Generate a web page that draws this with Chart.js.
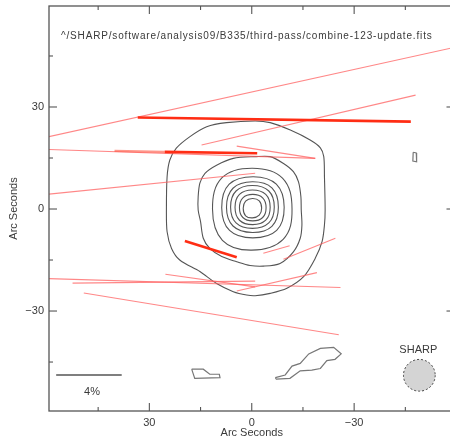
<!DOCTYPE html>
<html><head><meta charset="utf-8">
<script src="https://cdn.jsdelivr.net/npm/chart.js@4.4.0/dist/chart.umd.min.js"></script>
<style>html,body{margin:0;padding:0;overflow:hidden;background:#fff;width:450px;height:444px}canvas{display:block}</style>
</head><body>
<canvas id="c" width="460" height="444"></canvas>
<script>
// ---- axes ----
const xRange = [-59.4, 59.4];
const yRange = [-59.4, 59.7];
const tickValues = [-45, -30, -15, 0, 15, 30, 45];
const labeledTicks = [-30, 0, 30];
const tickLabels = {'-30': '\u221230', '0': '0', '30': '30'};
const axisTitle = 'Arc Seconds';
const fileTitle = '^/SHARP/software/analysis09/B335/third-pass/combine-123-update.fits';

// ---- intensity contours (arcsec offsets: x = RA offset, y = Dec offset) ----
const contour1 = [[-1.0,25.9],[-5.4,25.4],[-11.3,23.2],[-17.1,20.3],[-20.1,18.0],[-21.1,15.4],[-21.3,9.5],[-21.5,-0.3],[-21.3,-4.7],[-20.6,-9.6],[-18.6,-14.5],[-15.2,-19.9],[-10.3,-23.3],[-5.4,-24.8],[-1.0,-25.5],[1.5,-25.3],[5.4,-24.3],[10.3,-21.9],[15.2,-18.4],[21.1,-15.0],[23.5,-11.6],[24.8,-6.7],[25.0,-0.3],[24.8,9.5],[24.0,14.4],[22.1,17.9],[18.1,21.3],[13.2,24.2],[7.4,25.4]];
const contour2 = [[-1.0,15.4],[-5.4,15.4],[-9.3,13.4],[-12.2,11.0],[-13.7,8.0],[-14.4,3.6],[-14.5,-0.3],[-14.7,-4.7],[-14.2,-8.6],[-12.2,-12.6],[-8.3,-16.0],[-3.4,-16.8],[0.5,-16.6],[4.4,-15.5],[8.8,-14.0],[12.3,-11.6],[14.2,-8.6],[15.0,-3.7],[15.7,-0.3],[15.7,3.6],[15.2,7.6],[13.7,10.5],[10.3,12.9],[5.4,14.9]];
const contour3 = [[-11.8,0.0],[-9.0,9.1],[-0.2,12.0],[8.7,9.2],[11.5,0.0],[8.6,-9.2],[0.0,-12.1],[-9.2,-8.9]];
const contour4 = [[-9.5,0.5],[-7.2,7.3],[-0.4,9.5],[6.6,7.3],[8.8,0.4],[6.5,-6.3],[-0.3,-8.5],[-7.3,-6.3]];
const contour5 = [[-7.8,0.5],[-5.9,6.2],[-0.2,8.0],[5.5,6.1],[7.4,0.5],[5.5,-5.0],[-0.2,-6.9],[-5.9,-5.1]];
const contour6 = [[-6.6,0.6],[-5.0,5.3],[-0.2,6.9],[4.6,5.3],[6.2,0.6],[4.6,-4.1],[-0.2,-5.7],[-5.0,-4.1]];
const contour7 = [[-5.4,0.5],[-4.1,4.3],[-0.2,5.6],[3.6,4.3],[4.9,0.5],[3.6,-3.3],[-0.3,-4.6],[-4.1,-3.3]];
const contour8 = [[-4.2,0.4],[-3.2,3.3],[-0.3,4.3],[2.6,3.3],[3.6,0.4],[2.6,-2.5],[-0.3,-3.5],[-3.2,-2.5]];
const contour9 = [[-2.9,0.2],[-2.2,2.4],[-0.2,3.1],[1.8,2.3],[2.5,0.2],[1.8,-2.0],[-0.2,-2.6],[-2.2,-1.8]];
const smoothContours = [contour1, contour2, contour3, contour4, contour5, contour6, contour7, contour8, contour9];
// small angular contour islands
const islandA = [[17.6,-47.1],[14.2,-47.1],[12.3,-48.6],[9.5,-48.6],[9.3,-49.6],[16.7,-49.8]];
const islandB = [[-6.9,-49.6],[-9.8,-48.8],[-11.8,-46.2],[-14.2,-45.4],[-16.7,-42.6],[-20.1,-41.0],[-24.0,-40.7],[-26.2,-42.6],[-24.4,-44.2],[-22.0,-44.6],[-20.1,-46.9],[-17.6,-47.4],[-14.2,-47.6],[-11.2,-49.8],[-7.2,-50.0]];
const islandC = [[-47.3,16.7],[-48.2,16.5],[-48.3,13.9],[-47.2,14.1]];
const islands = [islandA, islandB, islandC];

// ---- polarization vectors (start / end in arcsec; class = significance) ----
const vecX1 = [62.0, 33.4, 14.7, 4.4, 62.0, 25.5, 40.2, 62.0, 19.6, 62.0, 52.5, 25.3, 4.4, 49.2, -3.4, -9.3];
const vecY1 = [20.7, 26.9, 18.8, 18.5, 17.6, 16.8, 17.1, 4.1, -9.4, -20.4, -21.8, -19.2, -24.1, -24.7, -13.0, -14.8];
const vecX2 = [-62.0, -46.6, -48.0, -18.6, -18.6, -1.6, 25.5, -1.0, 4.4, -26.0, -1.0, -1.0, -19.1, -25.5, -11.1, -24.5];
const vecY2 = [48.1, 25.7, 33.5, 14.9, 14.9, 16.4, 16.8, 10.5, -14.2, -23.1, -21.2, -22.9, -18.7, -37.0, -10.8, -8.6];
const vecClass = ['low','high','low','low','low','high','mid','low','high','low','low','low','low','low','low','low'];

// ---- key: 4% scale bar and SHARP beam ----
const scaleBarX = [57.3, 38.1];
const scaleBarY = -48.8;
const scaleBarLabel = '4%';
const scaleBarLabelPos = [46.8, -53.8];
const beamCenter = [-49.1, -48.9];
const beamRadius = 4.65;
const beamLabel = 'SHARP';
const beamLabelPos = [-48.8, -41.5];
const fileTitlePos = [55.9, 50.9];

// ---- build datasets ----
const FONT = '"Liberation Sans", Arial, sans-serif';
const TEXT = '#3a3a3a';
const vecStyle = {
  high: {color: 'rgb(255,45,20)', width: 2.6, order: 0},
  mid: {color: 'rgba(255,80,60,0.6)', width: 2.4, order: 0},
  low: {color: 'rgba(255,95,95,0.75)', width: 1.1, order: 1}
};
const datasets = [];
const toPts = arr => arr.map(p => ({x: p[0], y: p[1]}));
smoothContours.forEach((c, k) => {
  const n = c.length;
  const seq = [c[n - 1], ...c, c[0], c[1]];
  const last = seq.length - 2;
  datasets.push({
    data: toPts(seq), showLine: true, pointRadius: 0, borderColor: '#555', borderWidth: 1.1,
    tension: n > 10 ? 0.3 : 0.4, order: 2,
    segment: { borderColor: ctx => (ctx.p0DataIndex === 0 || ctx.p0DataIndex === last) ? 'rgba(0,0,0,0)' : '#555' }
  });
});
islands.forEach(c => {
  datasets.push({ data: toPts([...c, c[0]]), showLine: true, pointRadius: 0, borderColor: '#777', borderWidth: 1.2, tension: 0, order: 2 });
});
vecX1.forEach((_, i) => {
  const st = vecStyle[vecClass[i]];
  datasets.push({
    data: [{x: vecX1[i], y: vecY1[i]}, {x: vecX2[i], y: vecY2[i]}], showLine: true, pointRadius: 0,
    borderColor: st.color, borderWidth: st.width, order: st.order
  });
});
datasets.push({ data: [{x: scaleBarX[0], y: scaleBarY}, {x: scaleBarX[1], y: scaleBarY}], showLine: true, pointRadius: 0, borderColor: '#555', borderWidth: 1.5, order: 2 });

const decor = {
  id: 'decor',
  afterDatasetsDraw(chart) {
    const {ctx, chartArea: a, scales: {x, y}} = chart;
    ctx.save();
    ctx.strokeStyle = '#555';
    ctx.lineWidth = 1.3;
    ctx.strokeRect(a.left, a.top, a.right - a.left, a.bottom - a.top);
    ctx.lineWidth = 1.1;
    const seg = (x1, y1, x2, y2) => { ctx.beginPath(); ctx.moveTo(x1, y1); ctx.lineTo(x2, y2); ctx.stroke(); };
    tickValues.forEach(v => {
      const len = labeledTicks.includes(v) ? 8 : 4;
      const px = x.getPixelForValue(v), py = y.getPixelForValue(v);
      seg(px, a.bottom, px, a.bottom - len); seg(px, a.top, px, a.top + len);
      seg(a.left, py, a.left + len, py); seg(a.right, py, a.right - len, py);
    });
    // beam
    const bx = x.getPixelForValue(beamCenter[0]), by = y.getPixelForValue(beamCenter[1]);
    const br = Math.abs(x.getPixelForValue(beamCenter[0] + beamRadius) - bx);
    ctx.beginPath(); ctx.arc(bx, by, br, 0, Math.PI * 2);
    ctx.fillStyle = '#d4d4d4'; ctx.fill();
    ctx.setLineDash([2, 2]); ctx.strokeStyle = '#444'; ctx.lineWidth = 1; ctx.stroke(); ctx.setLineDash([]);
    // texts
    ctx.fillStyle = TEXT;
    ctx.textBaseline = 'middle';
    ctx.font = '10px ' + FONT;
    const w0 = ctx.measureText(fileTitle).width;
    ctx.letterSpacing = ((372 - w0) / fileTitle.length).toFixed(2) + 'px';
    ctx.textAlign = 'left';
    ctx.fillText(fileTitle, x.getPixelForValue(fileTitlePos[0]), y.getPixelForValue(fileTitlePos[1]));
    ctx.letterSpacing = '0px';
    ctx.textAlign = 'center';
    ctx.font = '11px ' + FONT;
    ctx.fillText(scaleBarLabel, x.getPixelForValue(scaleBarLabelPos[0]), y.getPixelForValue(scaleBarLabelPos[1]));
    ctx.fillText(beamLabel, x.getPixelForValue(beamLabelPos[0]), y.getPixelForValue(beamLabelPos[1]));
    ctx.restore();
  }
};

const tickOpts = {
  color: TEXT, font: {family: FONT, size: 11}, padding: 5,
  callback: v => tickLabels[String(v)] !== undefined ? tickLabels[String(v)] : ''
};
new Chart(document.getElementById('c'), {
  type: 'scatter',
  data: { datasets },
  plugins: [decor],
  options: {
    responsive: false, animation: false, events: [],
    layout: { autoPadding: false, padding: { left: 0, top: 6, right: 5.5, bottom: 0 } },
    plugins: { legend: { display: false }, tooltip: { enabled: false } },
    scales: {
      x: {
        type: 'linear', reverse: true, min: xRange[0], max: xRange[1],
        afterBuildTicks: s => { s.ticks = tickValues.map(v => ({value: v})); },
        afterFit: s => { s.height = 33; s.paddingLeft = 0; s.paddingRight = 0; },
        grid: { display: false, drawTicks: false }, border: { display: false },
        ticks: { ...tickOpts, maxRotation: 0, autoSkip: false, padding: 5 },
        title: { display: true, text: axisTitle, color: TEXT, font: {family: FONT, size: 11}, padding: {top: 0, bottom: 4} }
      },
      y: {
        type: 'linear', min: yRange[0], max: yRange[1],
        afterBuildTicks: s => { s.ticks = tickValues.map(v => ({value: v})); },
        afterFit: s => { s.width = 49; s.paddingTop = 0; s.paddingBottom = 0; },
        grid: { display: false, drawTicks: false }, border: { display: false },
        ticks: { ...tickOpts, autoSkip: false, padding: 5 },
        title: { display: true, text: axisTitle, color: TEXT, font: {family: FONT, size: 11}, padding: {top: 7, bottom: 0} }
      }
    }
  }
});
</script>
</body></html>
